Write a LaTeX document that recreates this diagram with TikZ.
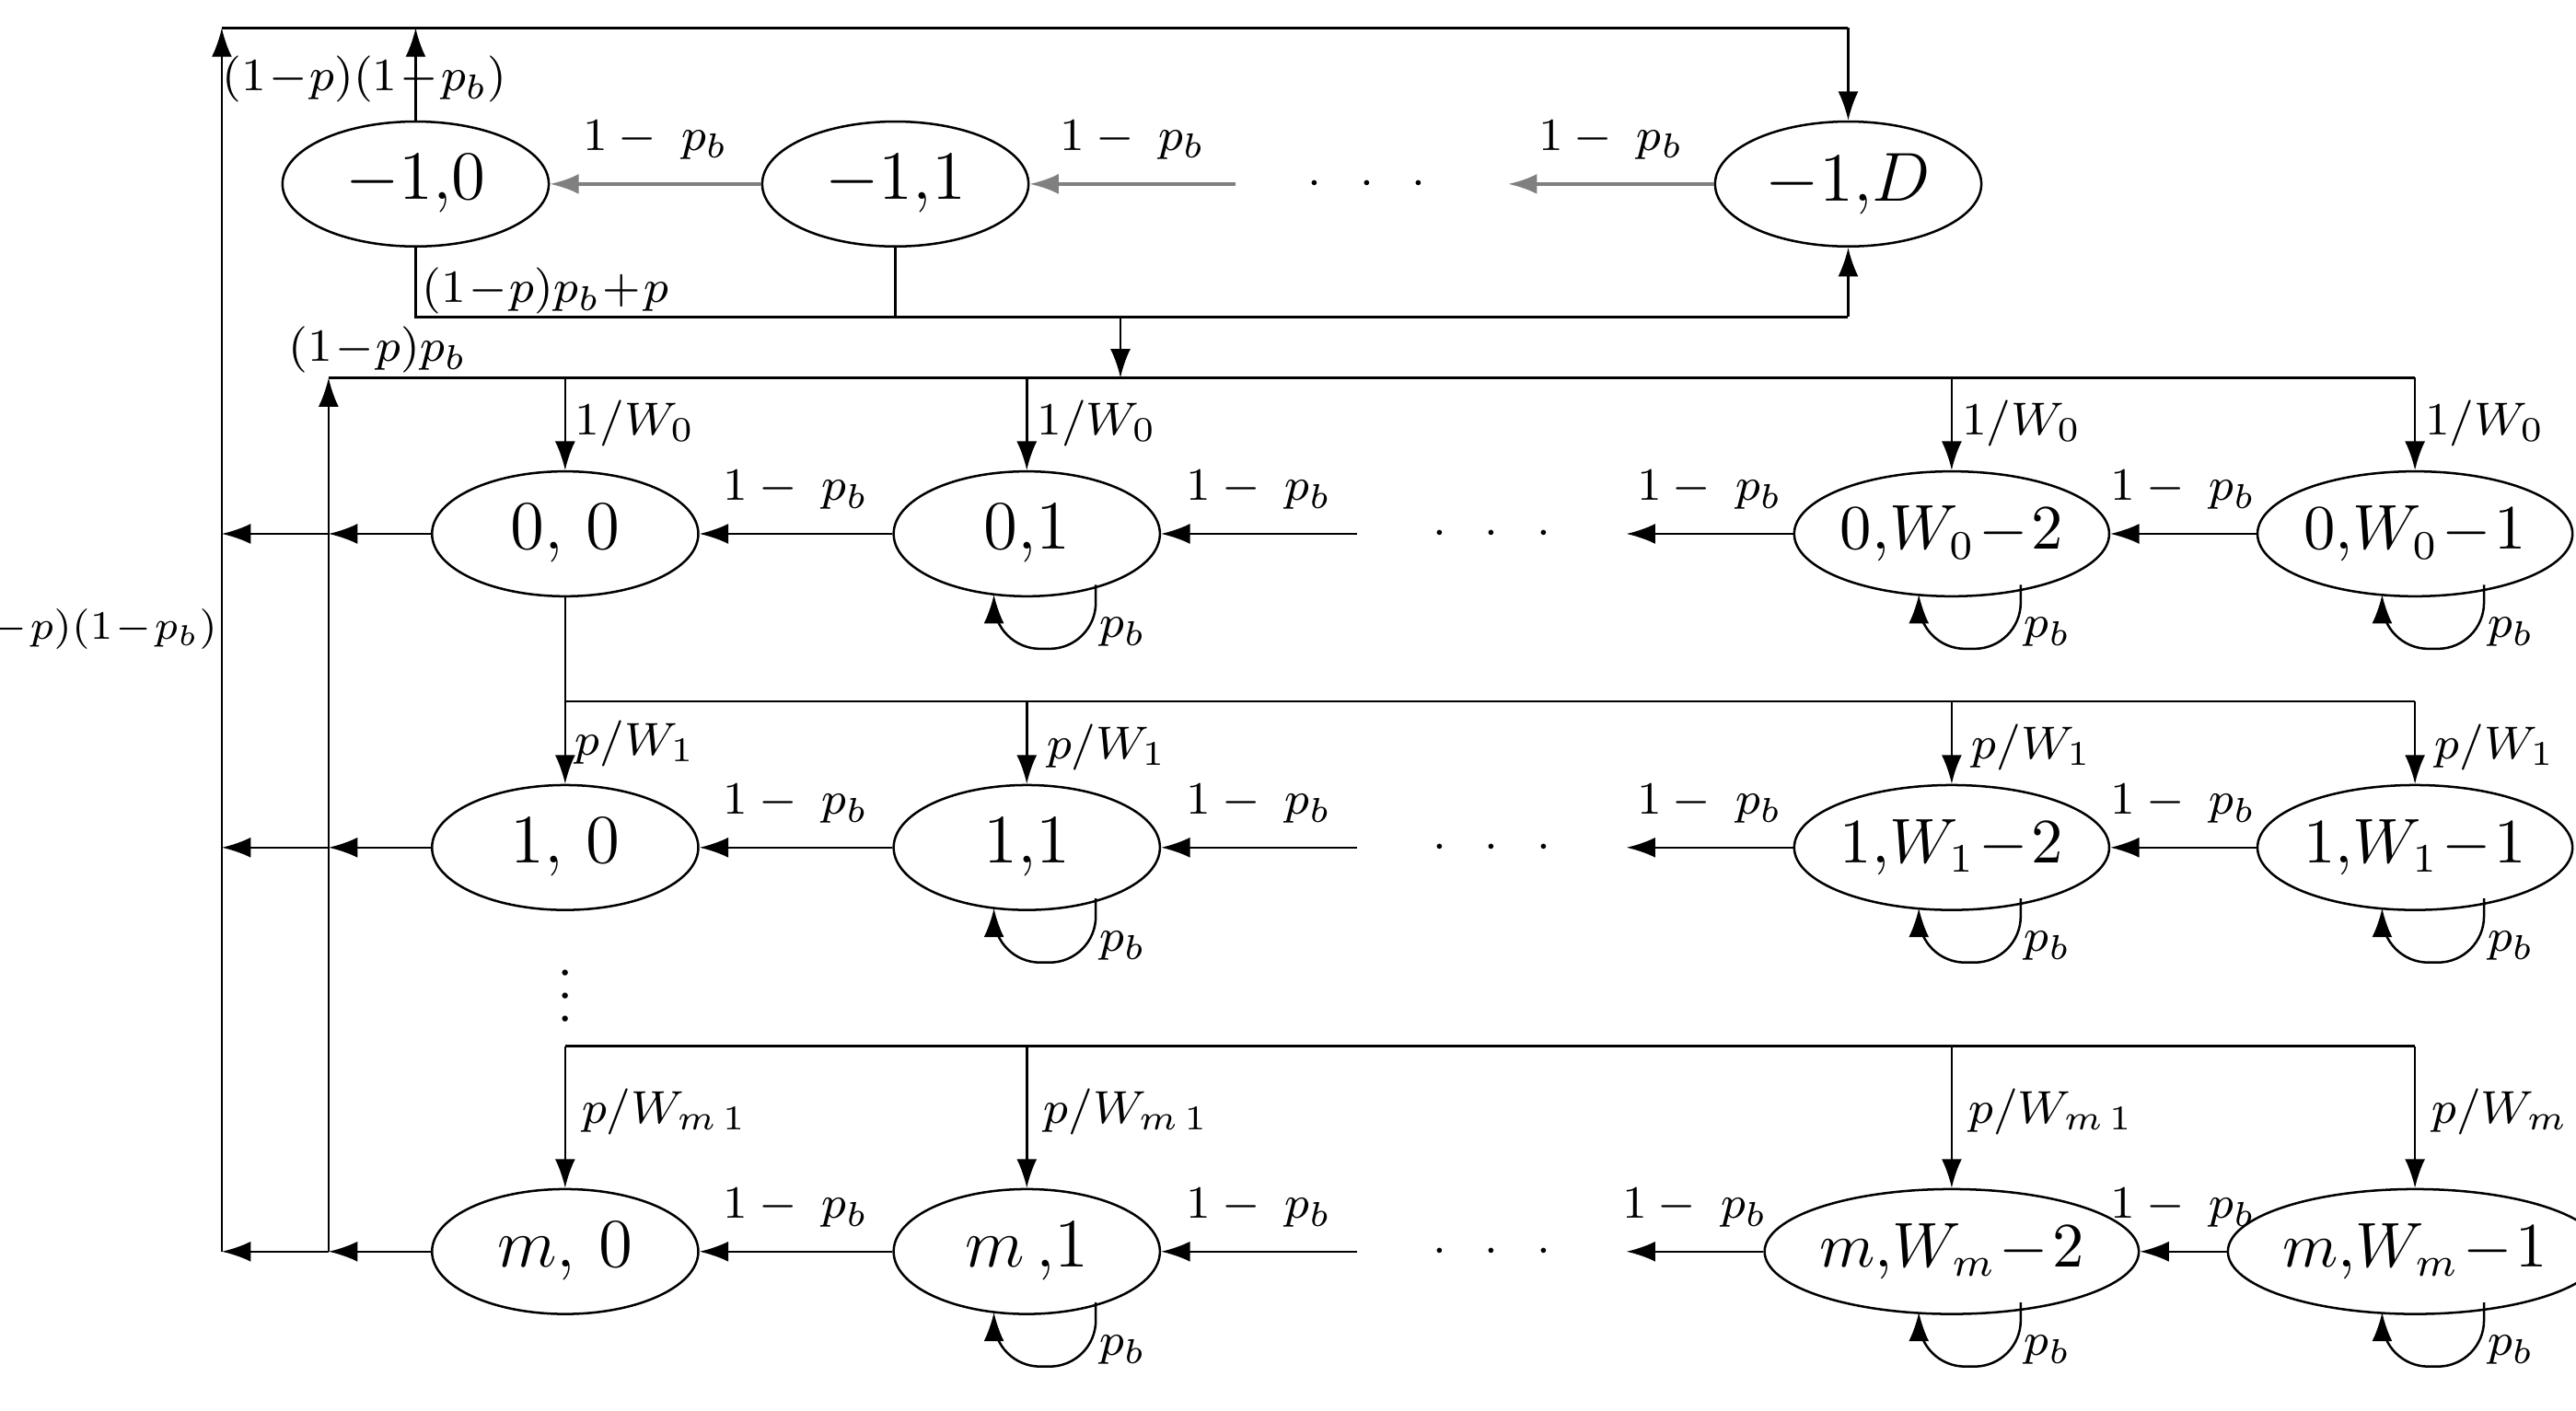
\documentclass[tikz,border=0pt]{standalone}
\usepackage{fontspec}
\setmainfont{Liberation Serif}
\usetikzlibrary{shapes.geometric,arrows.meta,calc}
\begin{document}
\begin{tikzpicture}[x=0.01cm,y=-0.01cm,
  st/.style={ellipse,draw,thin,minimum width=1.62cm,minimum height=0.76cm,inner sep=0pt,font=\fontsize{12}{14}\selectfont},
  sts/.style={st,font=\fontsize{10.5}{12}\selectfont},
  lb/.style={font=\fontsize{8.5}{10}\selectfont,inner sep=1pt},
  ar/.style={-{Latex[length=5pt,width=3.5pt]},thin},
  gar/.style={ar,gray,semithick},
  ln/.style={thin}]
\useasboundingbox (0,0) rectangle (1568,859);
% top row
\node[st] (m10) at (253,112) {$-1,\!0$};
\node[st] (m11) at (545,112) {$-1,\!1$};
\node[st] (m1D) at (1125,112) {$-1,\!D$};
\node[lb] at (832,112) {$\cdot\;\;\cdot\;\;\cdot$};
\coordinate (t1) at (752,112);
\coordinate (t2) at (918,112);
\draw[gar] (m11) -- (m10) node[midway,above,black,lb,yshift=3pt]{$1-\;p_b$};
\draw[gar] (t1) -- (m11) node[midway,above,black,lb,yshift=3pt]{$1-\;p_b$};
\draw[gar] (m1D) -- (t2) node[midway,above,black,lb,yshift=3pt]{$1-\;p_b$};
% rows
\foreach \r/\y/\a/\b/\c/\d in {0/325/{0,\,0}/{0,\!1}/{0,\!W_0\!-\!2}/{0,\!W_0\!-\!1},
  1/516/{1,\,0}/{1,\!1}/{1,\!W_1\!-\!2}/{1,\!W_1\!-\!1},
  m/762/{m,\,0}/{m\,,\!1}/{m,\!W_m\!-\!2}/{m,\!W_m\!-\!1}}{
  \node[st] (n\r a) at (344,\y) {$\a$};
  \node[st] (n\r b) at (625,\y) {$\b$};
  \node[sts] (n\r c) at (1188,\y) {$\c$};
  \node[sts] (n\r d) at (1470,\y) {$\d$};
  \coordinate (r\r) at (826,\y);
  \coordinate (l\r) at (990,\y);
  \coordinate (i\r) at (200,\y);
  \coordinate (o\r) at (135,\y);
  \node[lb] at (908,\y) {$\cdot\;\;\cdot\;\;\cdot$};
  \draw[ar] (n\r b) -- (n\r a) node[midway,above,lb,yshift=3pt]{$1-\;p_b$};
  \draw[ar] (r\r) -- (n\r b) node[midway,above,lb,yshift=3pt]{$1-\;p_b$};
  \draw[ar] (n\r c) -- (l\r) node[midway,above,lb,yshift=3pt]{$1-\;p_b$};
  \draw[ar] (n\r d) -- (n\r c) node[midway,above,lb,yshift=3pt]{$1-\;p_b$};
  \draw[ar] (n\r a) -- (i\r);
  \draw[ar] (i\r) -- (o\r);
  \foreach \n in {b,c,d}{
    \draw[ar,rounded corners=8pt] ($(n\r\n)+(42,31)$) -- ($(n\r\n)+(42,70)$) -- ($(n\r\n)+(-20,70)$) -- ($(n\r\n)+(-20,37)$);
    \node[lb,anchor=west] at ($(n\r\n)+(40,60)$) {$p_b$};
  }
}
% outer loop
\coordinate (oT) at (135,17);
\coordinate (aT) at (253,17);
\coordinate (dT) at (1125,17);
\draw[ar] (om) -- (oT);
\draw[ln] (oT) -- (dT);
\draw[ar] (dT) -- (m1D);
\draw[ar] (m10) -- (aT);
\node[lb] at (222,48) {$(1\!-\!p)(1\!-\!p_b)$};
\node[lb,anchor=east,font=\fontsize{7.5}{9}\selectfont,inner sep=0pt] at (133,383) {$(1\!-\!p)(1\!-\!p_b)$};
% lower connection of -1 row
\coordinate (c1) at (253,193);
\coordinate (c2) at (545,193);
\coordinate (c3) at (1125,193);
\coordinate (c4) at (682,193);
\draw[ln] (m10) -- (c1) -- (c3);
\draw[ar] (c3) -- (m1D);
\draw[ln] (m11) -- (c2);
\node[lb,anchor=west] at (253,177) {$(1\!-\!p)p_b\!+\!p$};
% bus to row 0
\coordinate (b0) at (682,230);
\coordinate (iT) at (200,230);
\coordinate (bE) at (1470,230);
\draw[ar] (c4) -- (b0);
\draw[ar] (im) -- (iT);
\draw[ln] (iT) -- (bE);
\node[lb] at (230,213) {$(1\!-\!p)p_b$};
\foreach \n in {a,b,c,d}{
  \draw[ar] (n0\n |- iT) -- (n0\n);
  \node[lb,anchor=west] at ($(n0\n |- iT)+(2,28)$) {$1/W_0$};
}
% bus to row 1
\coordinate (p1) at (344,427);
\coordinate (p1e) at (1470,427);
\draw[ar] (n0a) -- (n1a);
\draw[ln] (p1) -- (p1e);
\node[lb,anchor=west] at ($(p1)+(2,26)$) {$p/W_1$};
\foreach \n in {b,c,d}{
  \draw[ar] (n1\n |- p1) -- (n1\n);
  \node[lb,anchor=west] at ($(n1\n |- p1)+(8,28)$) {$p/W_1$};
}
\node[lb] at (344,596) {$\vdots$};
% bus to row m
\coordinate (pm) at (344,637);
\coordinate (pme) at (1470,637);
\draw[ln] (pm) -- (pme);
\foreach \n in {a,b,c,d}{
  \draw[ar] (nm\n |- pm) -- (nm\n);
  \node[lb,anchor=west] at ($(nm\n |- pm)+(6,40)$) {$p/W_{m\,1}$};
}
\end{tikzpicture}
\end{document}
